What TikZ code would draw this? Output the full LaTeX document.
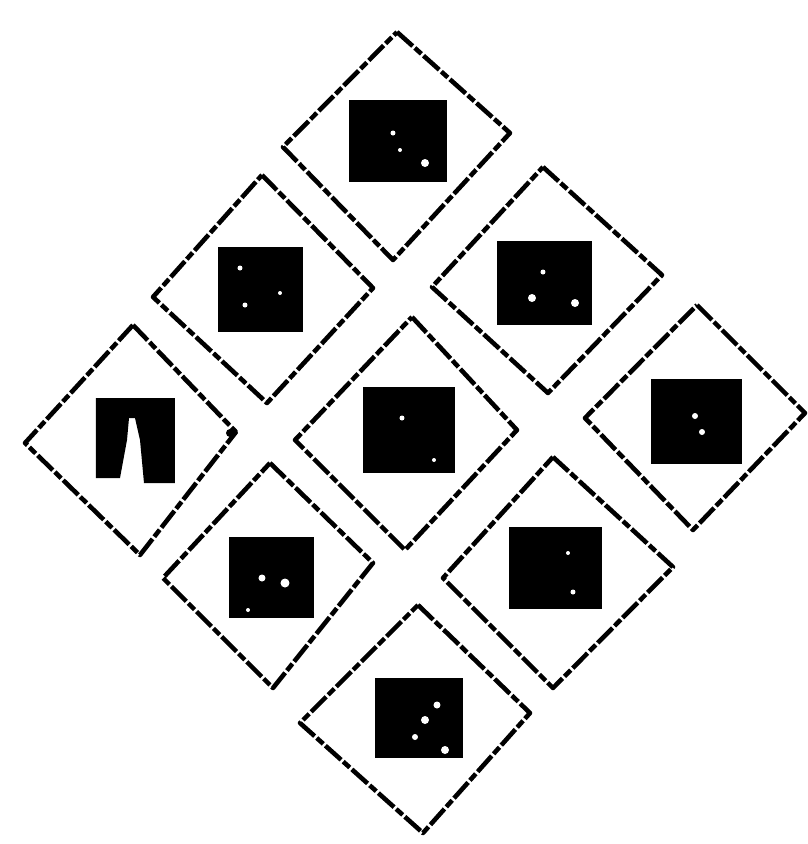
\documentclass[tikz,border=0pt]{standalone}
\usetikzlibrary{calc}

\begin{document}
\begin{tikzpicture}[
    x=0.01cm, y=-0.01cm,
    tile/.style={draw=black, line width=1.3pt, line join=round,
        dash pattern=on 6pt off 0.8pt on 2.5pt off 0.8pt},
    plate/.style={fill=black},
    spot/.style={fill=white},
]
% Frame of the scan
\useasboundingbox (0,0) rectangle (808,844);

% Outer diamonds (top, right, bottom, left corner)
\draw[tile] (397,32) -- (510,133) -- (393,260) -- (283,147) -- cycle;   % top
\draw[tile] (262,175) -- (373,288) -- (267,403) -- (153,297) -- cycle;  % upper left
\draw[tile] (543,167) -- (662,275) -- (548,393) -- (432,287) -- cycle;  % upper right
\draw[tile] (133,325) -- (236,432) -- (140,555) -- (25,443) -- cycle;   % left
\draw[tile] (412,317) -- (517,430) -- (405,550) -- (295,440) -- cycle;  % centre
\draw[tile] (697,305) -- (805,413) -- (693,530) -- (585,418) -- cycle;  % right
\draw[tile] (270,463) -- (373,563) -- (273,688) -- (163,578) -- cycle;  % lower left
\draw[tile] (553,457) -- (673,567) -- (553,688) -- (443,578) -- cycle;  % lower right
\draw[tile] (418,605) -- (530,713) -- (423,833) -- (300,723) -- cycle;  % bottom

% Black plates
\fill[plate] (349,100) rectangle (447,182);
\fill[plate] (218,247) rectangle (303,332);
\fill[plate] (497,241) rectangle (592,325);
\fill[plate] (96,398) -- (175,398) -- (175,483) -- (144,483) -- (140,440)
    -- (135,418) -- (129,418) -- (127,440) -- (120,478) -- (96,478) -- cycle;
\fill[plate] (363,387) rectangle (455,473);
\fill[plate] (651,379) rectangle (742,464);
\fill[plate] (229,537) rectangle (314,618);
\fill[plate] (509,527) rectangle (602,609);
\fill[plate] (375,678) rectangle (463,758);

% Light flecks in the plates
\foreach \px/\py/\r in {425/163/4, 393/133/2.5, 400/150/2,
    240/268/2.5, 245/305/2.5, 280/293/2,
    543/272/2.5, 532/298/4, 575/303/4,
    402/418/2.5, 434/460/2,
    695/416/3, 702/432/3,
    262/578/3.5, 285/583/4.5, 248/610/2,
    573/592/2.5, 568/553/2,
    437/705/3.5, 425/720/4, 415/737/3, 445/750/4}
    \fill[spot] (\px,\py) circle (\r);

% Stray mark at the right corner of the left diamond
\fill[plate] (230,433) circle (4);

\end{tikzpicture}
\end{document}
